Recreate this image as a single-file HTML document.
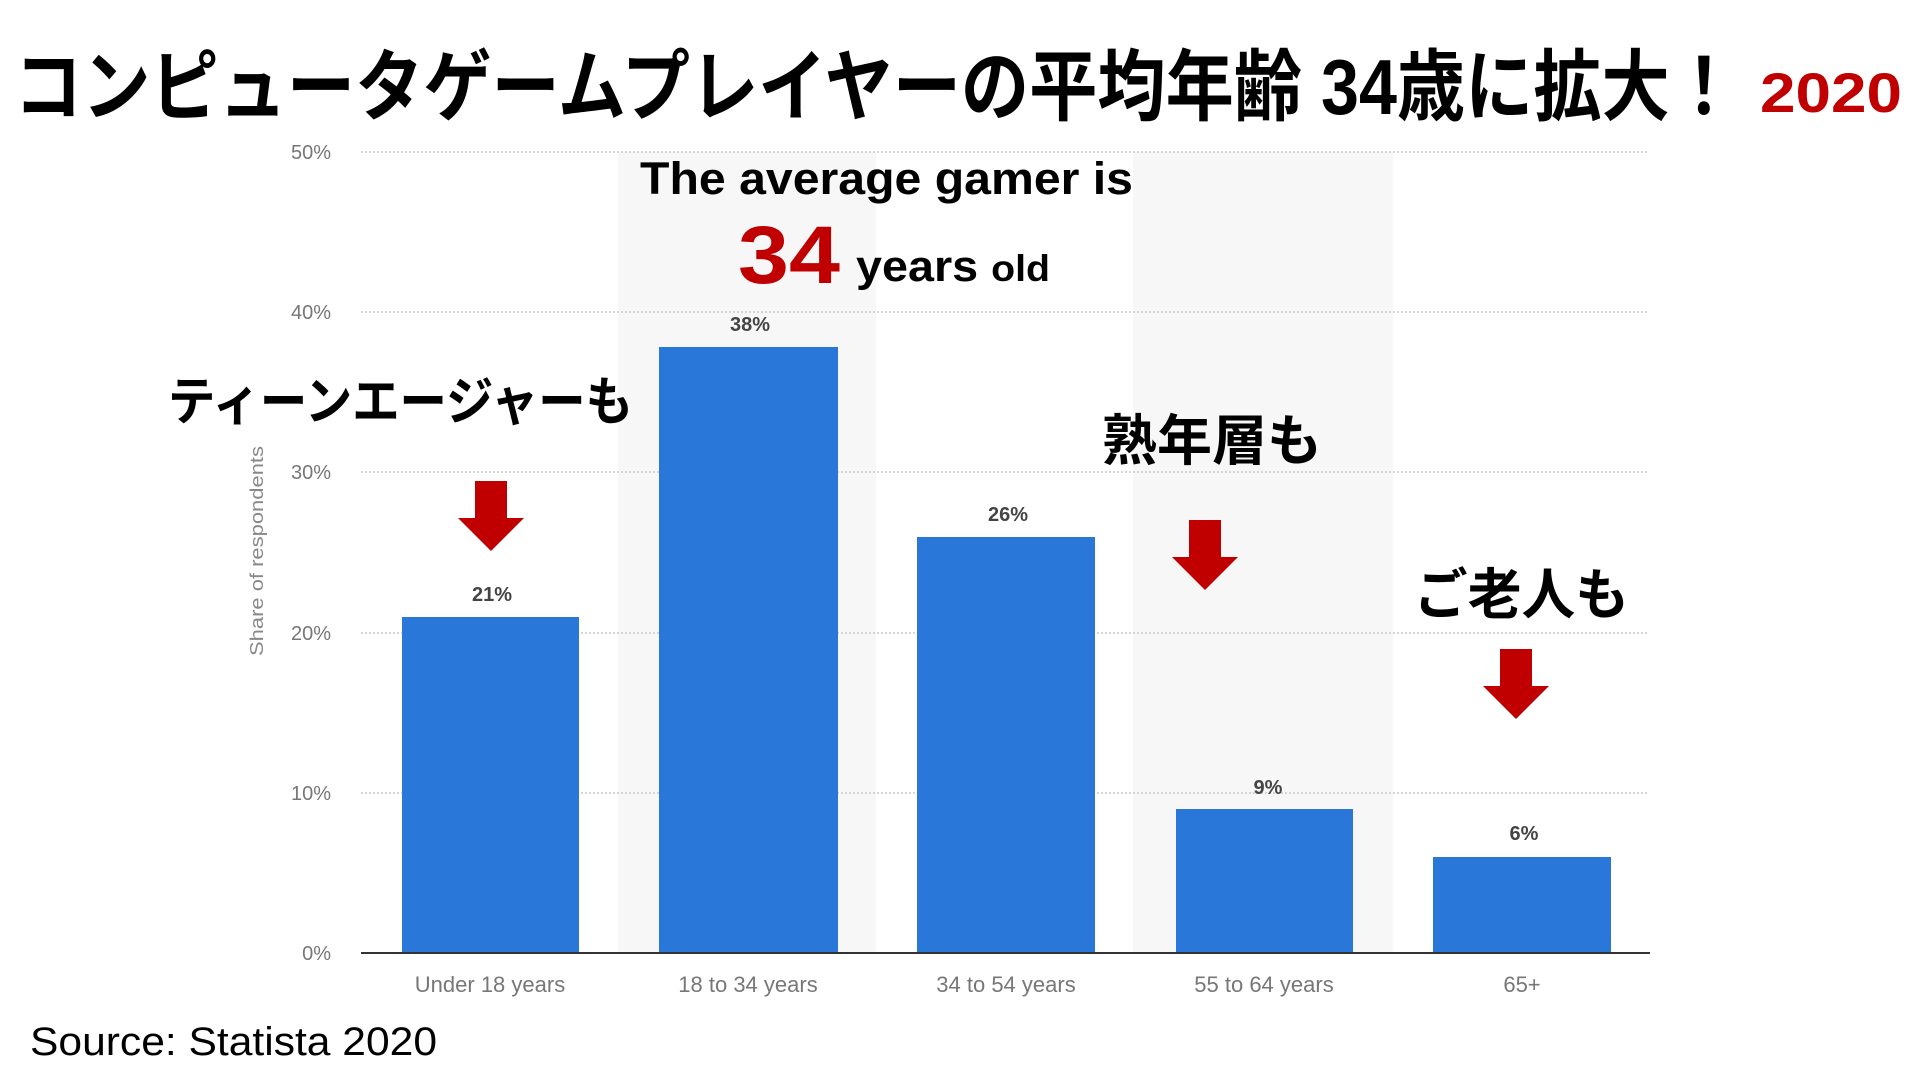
<!DOCTYPE html>
<html><head><meta charset="utf-8"><style>
body{margin:0;background:#fff;}
svg{display:block}
</style></head><body>
<svg width="1920" height="1080" xmlns="http://www.w3.org/2000/svg" font-family="'Liberation Sans','Noto Sans CJK JP',sans-serif">
<rect width="1920" height="1080" fill="#fff"/>
<rect x="618" y="152" width="258" height="801" fill="#f7f7f7"/>
<rect x="1133" y="152" width="260" height="801" fill="#f7f7f7"/>
<g stroke="#c8c8c8" stroke-width="1.5" stroke-dasharray="2,2">
<line x1="361" x2="1649" y1="152" y2="152"/>
<line x1="361" x2="1649" y1="312" y2="312"/>
<line x1="361" x2="1649" y1="472" y2="472"/>
<line x1="361" x2="1649" y1="633" y2="633"/>
<line x1="361" x2="1649" y1="793" y2="793"/>
</g>
<g fill="#777" font-size="20" text-anchor="end">
<text x="331" y="159">50%</text>
<text x="331" y="319">40%</text>
<text x="331" y="479">30%</text>
<text x="331" y="640">20%</text>
<text x="331" y="800">10%</text>
<text x="331" y="960">0%</text>
</g>
<text transform="translate(263,551) rotate(-90)" text-anchor="middle" fill="#888" font-size="18" textLength="210" lengthAdjust="spacingAndGlyphs">Share of respondents</text>
<g fill="#2a77da">
<rect x="402" y="617" width="177" height="336"/>
<rect x="659" y="347" width="179" height="606"/>
<rect x="917" y="537" width="178" height="416"/>
<rect x="1176" y="809" width="177" height="144"/>
<rect x="1433" y="857" width="178" height="96"/>
</g>
<line x1="361" x2="1650" y1="953" y2="953" stroke="#333" stroke-width="2"/>
<g fill="#444" font-size="20" font-weight="bold" text-anchor="middle">
<text x="492" y="601">21%</text>
<text x="750" y="331">38%</text>
<text x="1008" y="521">26%</text>
<text x="1268" y="794">9%</text>
<text x="1524" y="840">6%</text>
</g>
<g fill="#777" font-size="22" text-anchor="middle">
<text x="490" y="992">Under 18 years</text>
<text x="748" y="992">18 to 34 years</text>
<text x="1006" y="992">34 to 54 years</text>
<text x="1264" y="992">55 to 64 years</text>
<text x="1522" y="992">65+</text>
</g>
<text x="14" y="114" font-size="78" font-weight="bold" fill="#000" textLength="1724" lengthAdjust="spacingAndGlyphs">コンピュータゲームプレイヤーの平均年齢 34歳に拡大！</text>
<text x="1760" y="112" font-size="56" font-weight="bold" fill="#c00000" textLength="142" lengthAdjust="spacingAndGlyphs">2020</text>
<text x="640" y="194" font-size="45" font-weight="bold" fill="#000" textLength="493" lengthAdjust="spacingAndGlyphs">The average gamer is</text>
<text x="738" y="283" font-size="82" font-weight="bold" fill="#c00000" textLength="102" lengthAdjust="spacingAndGlyphs">34</text>
<text x="856" y="281" font-size="44" font-weight="bold" fill="#000" textLength="194" lengthAdjust="spacingAndGlyphs">years <tspan font-size="37">old</tspan></text>
<text x="168" y="420" font-size="52" font-weight="bold" fill="#000" textLength="465" lengthAdjust="spacingAndGlyphs">ティーンエージャーも</text>
<text x="1102" y="460" font-size="55" font-weight="bold" fill="#000" textLength="220" lengthAdjust="spacingAndGlyphs">熟年層も</text>
<text x="1414" y="614" font-size="55" font-weight="bold" fill="#000" textLength="215" lengthAdjust="spacingAndGlyphs">ご老人も</text>
<g fill="#c00000">
<polygon points="475,481 507,481 507,518 524,518 491,551 458,518 475,518"/>
<polygon points="1189,520 1221,520 1221,557 1238,557 1205,590 1172,557 1189,557"/>
<polygon points="1500,649 1532,649 1532,686 1549,686 1516,719 1483,686 1500,686"/>
</g>
<text x="30" y="1055" font-size="40" fill="#000" textLength="407" lengthAdjust="spacingAndGlyphs">Source: Statista 2020</text>
</svg>
</body></html>
